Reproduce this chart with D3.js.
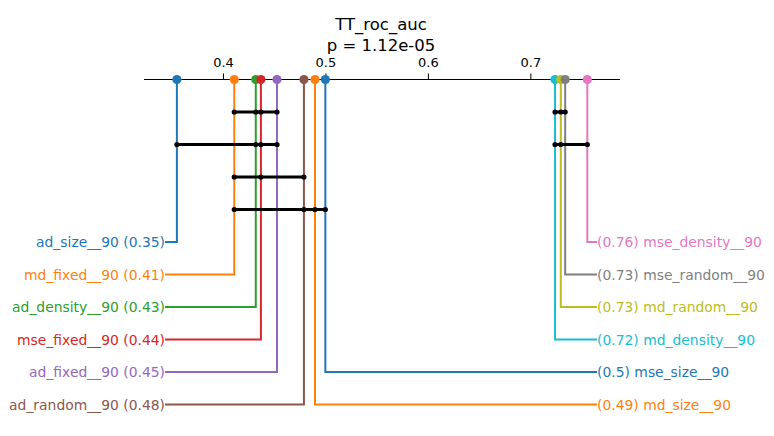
<!DOCTYPE html>
<html>
<head>
<meta charset="utf-8">
<script src="https://cdn.jsdelivr.net/npm/d3@7"></script>
<style>
  html, body { margin: 0; padding: 0; background: #fff; }
  svg { display: block; font-family: "DejaVu Sans", sans-serif; }
</style>
</head>
<body>
<svg id="chart" width="774" height="436"></svg>
<script>
// ---- data ----
const title = "TT_roc_auc";
const pValue = "p = 1.12e-05";
const names = ["ad_size__90", "md_fixed__90", "ad_density__90", "mse_fixed__90", "ad_fixed__90", "ad_random__90",
               "md_size__90", "mse_size__90", "md_density__90", "md_random__90", "mse_random__90", "mse_density__90"];
const scores = [0.355, 0.411, 0.432, 0.437, 0.4527, 0.479,
                0.4898, 0.4999, 0.7241, 0.7297, 0.734, 0.7556];
const colors = ["#1f77b4", "#ff7f0e", "#2ca02c", "#d62728", "#9467bd", "#8c564b",
                "#ff7f0e", "#1f77b4", "#17becf", "#bcbd22", "#7f7f7f", "#e377c2"];
const leftNames = ["ad_size__90", "md_fixed__90", "ad_density__90", "mse_fixed__90", "ad_fixed__90", "ad_random__90"];
const rightNames = ["mse_density__90", "mse_random__90", "md_random__90", "md_density__90", "mse_size__90", "md_size__90"];
const leftCliques = [
  ["md_fixed__90", "ad_density__90", "mse_fixed__90", "ad_fixed__90"],
  ["ad_size__90", "ad_density__90", "mse_fixed__90", "ad_fixed__90"],
  ["md_fixed__90", "mse_fixed__90", "ad_random__90"],
  ["md_fixed__90", "ad_random__90", "md_size__90", "mse_size__90"]
];
const rightCliques = [
  ["md_density__90", "md_random__90", "mse_random__90"],
  ["md_density__90", "md_random__90", "mse_density__90"]
];
const tickValues = [0.4, 0.5, 0.6, 0.7];
const drawOrder = ["ad_size__90", "md_fixed__90", "ad_density__90", "mse_fixed__90", "ad_fixed__90", "ad_random__90",
                   "md_size__90", "mse_size__90", "md_density__90", "md_random__90", "mse_random__90", "mse_density__90"];

// ---- layout ----
const svg = d3.select("#chart");
const axisY = 79.5;
const x = d3.scaleLinear().domain([0.3229, 0.7875]).range([144, 620]);
const rowY = d3.scaleLinear().domain([0, 1]).range([242, 274.5]);
const cliqueY = d3.scaleLinear().domain([0, 1]).range([112, 144.5]);
const leftTextX = 165, rightTextX = 597;

const byName = {};
names.forEach((n, i) => byName[n] = { name: n, score: scores[i], color: colors[i] });
const fmt = v => String(+v.toFixed(2));

// title
svg.append("text").attr("x", 381).attr("y", 30).attr("text-anchor", "middle")
  .attr("font-size", 16.5).attr("fill", "#000").text(title);
svg.append("text").attr("x", 381).attr("y", 51).attr("text-anchor", "middle")
  .attr("font-size", 16.5).attr("fill", "#000").text(pValue);

// axis
const axis = d3.axisTop(x).tickValues(tickValues).tickSize(6).tickSizeOuter(0).tickPadding(6.5)
  .tickFormat(d3.format(".1f"));
const gAxis = svg.append("g").attr("transform", `translate(0,${axisY})`).call(axis);
gAxis.select(".domain").attr("stroke", "#000").attr("stroke-width", 1.1).attr("d", `M${x.range()[0]},0H${x.range()[1]}`);
gAxis.selectAll(".tick line").attr("stroke", "#000").attr("stroke-width", 1);
gAxis.selectAll(".tick text").attr("font-size", 13).attr("font-family", "DejaVu Sans, sans-serif").attr("fill", "#000");

// connector lines
const gLines = svg.append("g");
leftNames.forEach((n, i) => {
  const d = byName[n];
  const px = x(d.score), py = rowY(i);
  gLines.append("path").attr("d", `M${px},${axisY}V${py}H${leftTextX}`)
    .attr("fill", "none").attr("stroke", d.color).attr("stroke-width", 2);
  svg.append("text").attr("x", leftTextX).attr("y", py).attr("dy", "0.36em")
    .attr("text-anchor", "end").attr("font-size", 13.9).attr("fill", d.color)
    .text(`${n} (${fmt(d.score)})`);
});
rightNames.forEach((n, i) => {
  const d = byName[n];
  const px = x(d.score), py = rowY(i);
  gLines.append("path").attr("d", `M${px},${axisY}V${py}H${rightTextX}`)
    .attr("fill", "none").attr("stroke", d.color).attr("stroke-width", 2);
  svg.append("text").attr("x", rightTextX).attr("y", py).attr("dy", "0.36em")
    .attr("text-anchor", "start").attr("font-size", 13.9).attr("fill", d.color)
    .text(`(${fmt(d.score)}) ${n}`);
});

// points on axis
drawOrder.forEach(n => {
  const d = byName[n];
  svg.append("circle").attr("cx", x(d.score)).attr("cy", axisY).attr("r", 4.6).attr("fill", d.color);
});

// cliques
function drawCliques(list) {
  list.forEach((cl, i) => {
    const xs = cl.map(n => x(byName[n].score));
    const cy = cliqueY(i);
    svg.append("line").attr("x1", d3.min(xs)).attr("x2", d3.max(xs)).attr("y1", cy).attr("y2", cy)
      .attr("stroke", "#000").attr("stroke-width", 3);
    xs.forEach(cx => svg.append("circle").attr("cx", cx).attr("cy", cy).attr("r", 2.6).attr("fill", "#000"));
  });
}
drawCliques(leftCliques);
drawCliques(rightCliques);
</script>
</body>
</html>
